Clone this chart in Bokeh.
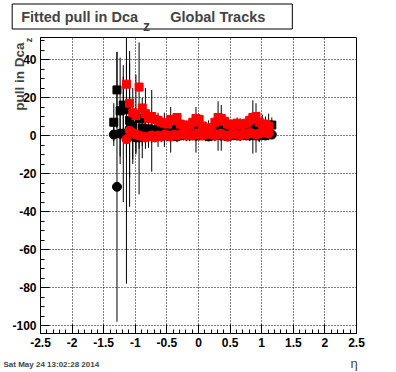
import numpy as np
from bokeh.plotting import figure
from bokeh.models import Range1d, Label, FixedTicker
from bokeh.embed import file_html
from bokeh.resources import INLINE

# ---------------- data ----------------
eta_black = [-1.34, -1.29, -1.24, -1.19, -1.14, -1.09, -1.04, -0.99, -0.94, -0.89,
             -0.84, -0.79, -0.74, -0.69, -0.64, -0.59, -0.54, -0.49, -0.44, -0.39,
             -0.34, -0.29, -0.24, -0.19, -0.14, -0.09, -0.04, 0.01, 0.06, 0.11,
             0.16, 0.21, 0.26, 0.31, 0.36, 0.41, 0.46, 0.51, 0.56, 0.61,
             0.66, 0.71, 0.76, 0.81, 0.86, 0.91, 0.96, 1.01, 1.06, 1.11, 1.16]
sq_black = [7, 24, 13, 16, 13.5, 8, 5, 11, 9, 4,
            9, 3.5, 2.5, 3, 3, 3, 3, 3, 3, 3,
            3.5, 3, 2.5, 3, 3, 2.5, 3, 3.5, 3, 2.5,
            3, 3, 3.5, 5, 4, 3, 3.5, 3, 3, 3.5,
            4, 3.5, 3, 4, 4.5, 4, 4.5, 5, 5, 5.5, 5.5]
sq_black_err = [10, 20, 28, 15, 25, 30, 20, 21, 40, 16,
                16, 10, 21.5, 6, 9, 5, 9, 5, 12, 4,
                5, 4, 5, 4, 6, 5, 12, 5, 4, 4,
                5, 4, 5, 13, 12, 5, 4, 5, 4, 6,
                5, 4, 5, 6, 14, 13, 8, 6, 5, 6, 4]
circ_black = [0.5, -27, 1, 1, 0, 3.5, -0.5, -1, -1, -0.5,
              0, 0.5, 0, -0.5, 0, 0.5, 0, 0, 0.5, 0,
              -0.5, 0, 0.5, 0, 0, 0.5, 0, 0, 0.5, 0,
              -0.5, 0, 0, 0.5, 0, 0, -0.5, 0, 0.5, 0,
              0, 0.5, 0, 0, 0.5, 0, 0, 0.5, 0, 0.5, 0.5]
circ_black_err = [6, 71, 12, 36, 78, 41, 12, 8, 6, 5,
                  4, 3, 4, 3, 3, 4, 3, 3, 4, 3,
                  3, 2, 3, 3, 2, 3, 3, 2, 3, 3,
                  2, 3, 3, 2, 3, 3, 2, 3, 3, 2,
                  3, 3, 2, 3, 3, 2, 3, 3, 2, 3, 2]

eta_red = [-1.14, -1.09, -1.04, -0.99, -0.94, -0.89, -0.84, -0.79, -0.74, -0.69,
           -0.64, -0.59, -0.54, -0.49, -0.44, -0.39, -0.34, -0.29, -0.24, -0.19,
           -0.14, -0.09, -0.04, 0.01, 0.06, 0.11, 0.16, 0.21, 0.26, 0.31,
           0.36, 0.41, 0.46, 0.51, 0.56, 0.61, 0.66, 0.71, 0.76, 0.81,
           0.86, 0.91, 0.96, 1.01, 1.06, 1.11]
sq_red = [27, 17, 12, 10.5, 25.5, 14.5, 11.5, 9, 10, 8.5,
          8, 7, 6.5, 6, 8.5, 8, 9.5, 6, 5.5, 5,
          5.5, 7, 9, 8.5, 5, 3.5, 4, 4, 7, 9.5,
          9, 7.5, 6, 5.5, 6, 6.5, 5.5, 6, 6.5, 8,
          9.5, 10, 7, 6, 6, 5]
circ_red = [-2, 2.5, 1.5, 0.5, 0, -0.5, -1, -0.5, 0, -1,
            0, -0.5, 0.5, 0, -0.5, 0.5, 0, 0.5, 1, 0,
            0.5, 0, 1, 0.5, 0, 0.5, 1, 0.5, 0, 0.5,
            1, 0, -0.5, 0.5, 1, 0.5, 0, 1, 0.5, 1.5,
            1, 0.5, 1, 2, 1.5, 1]

x_ticks = [-2.5, -2, -1.5, -1, -0.5, 0, 0.5, 1, 1.5, 2, 2.5]
x_tick_labels = ["-2.5", "-2", "-1.5", "-1", "-0.5", "0", "0.5", "1", "1.5", "2", "2.5"]
y_ticks = [-100, -80, -60, -40, -20, 0, 20, 40]
y_tick_labels = ["-100", "-80", "-60", "-40", "-20", "0", "20", "40"]

title_main = "Fitted pull in Dca"
title_sub = "z"
title_tail = "Global Tracks"
ylabel_main = "pull in Dca"
ylabel_sub = "z"
xlabel = "\u03b7"
date_text = "Sat May 24 13:02:28 2014"

# ---------------- layout ----------------
W, H = 396, 372
X0, X1 = -2.5, 2.5
Y0, Y1 = -104.2, 51.58
FL, FT, FW, FH = 40, 37, 316, 296   # frame in page pixels


def X(px):
    return X0 + (px - FL) * (X1 - X0) / FW


def Y(py):
    return Y1 - (py - FT) * (Y1 - Y0) / FH


FONT = "Liberation Sans"

p = figure(frame_width=FW, frame_height=FH,
           min_border_left=FL, min_border_right=W - FL - FW,
           min_border_top=FT, min_border_bottom=H - FT - FH,
           x_range=Range1d(X0, X1), y_range=Range1d(Y0, Y1),
           output_backend="svg", toolbar_location=None)
p.background_fill_color = "white"
p.border_fill_color = "white"
p.outline_line_color = "black"
p.outline_line_width = 1
p.outline_line_alpha = 1.0

x_minor = [round(v, 2) for v in np.arange(-2.5, 2.501, 0.1)]
y_minor = [v for v in range(-100, 51, 5)]
p.xaxis.ticker = FixedTicker(ticks=x_ticks, minor_ticks=x_minor)
p.yaxis.ticker = FixedTicker(ticks=y_ticks, minor_ticks=y_minor)
p.xaxis.major_label_overrides = {t: l for t, l in zip(x_ticks, x_tick_labels)}
p.yaxis.major_label_overrides = {t: l for t, l in zip(y_ticks, y_tick_labels)}

for ax in (p.xaxis[0], p.yaxis[0]):
    ax.axis_line_color = "black"
    ax.major_tick_line_color = "black"
    ax.minor_tick_line_color = "black"
    ax.major_tick_in = 9
    ax.major_tick_out = 0
    ax.minor_tick_in = 4
    ax.minor_tick_out = 0
    ax.major_label_text_font = FONT
    ax.major_label_text_font_style = "bold"
    ax.major_label_text_font_size = "12px"
    ax.major_label_text_color = "black"
    ax.major_label_standoff = 4
    ax.axis_label = None
    ax.axis_label_standoff = 0

for g in (p.xgrid[0], p.ygrid[0]):
    g.grid_line_color = "black"
    g.grid_line_dash = "1 2"
    g.grid_line_width = 1
    g.grid_line_alpha = 1.0

# ---------------- marks ----------------
eb = np.array(eta_black)
sb = np.array(sq_black)
sbe = np.array(sq_black_err)
cb = np.array(circ_black)
cbe = np.array(circ_black_err)

p.segment(x0=eb, y0=sb - sbe, x1=eb, y1=sb + sbe, line_color="black", line_width=1)
p.segment(x0=eb, y0=cb - cbe, x1=eb, y1=cb + cbe, line_color="black", line_width=1)
p.scatter(eta_black, sq_black, marker="square", size=8, fill_color="black", line_color="black")
p.scatter(eta_black, circ_black, marker="circle", size=9, fill_color="black", line_color="black")
p.scatter(eta_red, sq_red, marker="square", size=8, fill_color="#ff0000", line_color="#ff0000")
p.scatter(eta_red, circ_red, marker="circle", size=9, fill_color="#ff0000", line_color="#ff0000")

# ---------------- texts (in side panels so they are not clipped) ----------------
NB = "\u00a0"
title_label = Label(x=X(11.7), y=Y(16), text=title_main + NB * 8 + title_tail,
                    text_font=FONT, text_font_style="bold", text_font_size="14.5px",
                    text_baseline="alphabetic", text_align="left",
                    background_fill_color="white", background_fill_alpha=1.0,
                    border_line_color="black", border_line_width=1, border_line_alpha=1.0,
                    padding={"left": 9, "right": 27, "top": 5, "bottom": 4})
p.add_layout(title_label, "above")
p.add_layout(Label(x=X(3), y=Y(364), text=date_text, text_font=FONT,
                   text_font_style="bold", text_font_size="8px",
                   text_baseline="middle", text_align="left"), "above")

p.add_layout(Label(x=X(142.5), y=Y(25.5), text=title_sub, text_font=FONT,
                   text_font_style="bold", text_font_size="14px",
                   text_baseline="alphabetic", text_align="left"), "right")
p.add_layout(Label(x=X(18.5), y=Y(42), text=ylabel_main, angle=np.pi / 2,
                   text_font=FONT, text_font_style="bold", text_font_size="13.5px",
                   text_baseline="alphabetic", text_align="right"), "right")
p.add_layout(Label(x=X(28.5), y=Y(39.5), text=ylabel_sub, angle=np.pi / 2,
                   text_font=FONT, text_font_style="bold", text_font_size="9px",
                   text_baseline="middle", text_align="center"), "right")

p.add_layout(Label(x=X(353.5), y=Y(363), text=xlabel, text_font=FONT,
                   text_font_size="13px", text_baseline="middle", text_align="center"), "below")

open("out.html", "w").write(file_html(p, INLINE))
